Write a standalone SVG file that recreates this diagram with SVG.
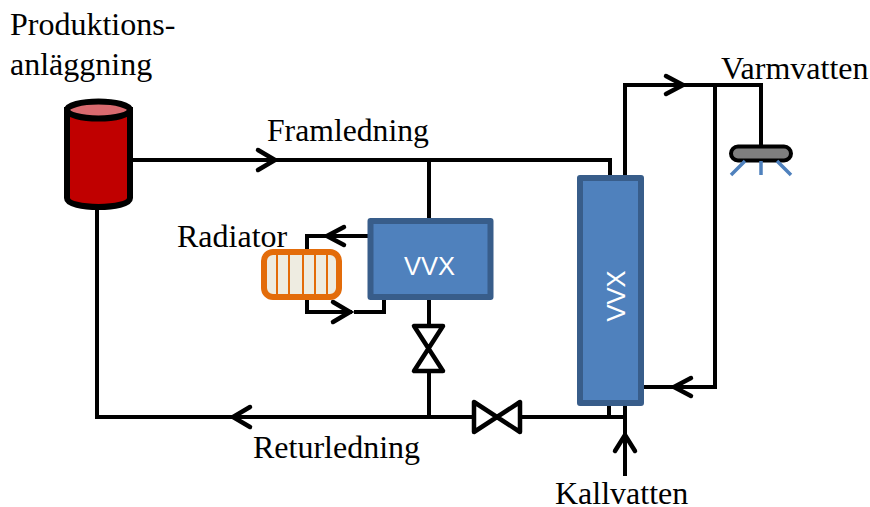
<svg xmlns="http://www.w3.org/2000/svg" width="870" height="507" viewBox="0 0 870 507">
<style>
.l{font-family:"Liberation Serif","Times New Roman",serif;font-size:32px;fill:#000}
.s{font-size:31.700px}
.w{font-family:"Liberation Sans",Arial,sans-serif;font-size:25.500px;fill:#fff;text-anchor:middle}
.p{fill:none;stroke:#000;stroke-width:4;stroke-linejoin:miter;stroke-linecap:butt}
.a{fill:none;stroke:#000;stroke-width:4.500;stroke-linecap:round;stroke-linejoin:miter}
.v{fill:#fff;stroke:#000;stroke-width:4.500;stroke-linejoin:round}
</style>
<g id="connectors">
<path class="p" d="M130 160H610V176"/>
<path class="p" d="M429 160V220"/>
<path class="p" d="M429 298V326"/>
<path class="p" d="M429 372V417"/>
<path class="p" d="M97 206V417H474"/>
<path class="p" d="M520 417H624"/>
<path class="p" d="M609 403V417"/>
<path class="p" d="M625 403V476"/>
<path class="p" d="M625 176V85H761V146"/>
<path class="p" d="M715 85V387H642"/>
<path class="p" d="M369 236H307V252"/>
<path class="p" d="M307 296V312H352"/>
<path class="p" d="M354 312H384V296"/>
<path class="a" d="M258 150L275 160L258 170"/>
<path class="a" d="M666 76L683 85L666 94"/>
<path class="a" d="M691 378L674 387L691 396"/>
<path class="a" d="M344 227L327 236L344 245"/>
<path class="a" d="M333 302L350 312L333 322"/>
<path class="a" d="M250 407L233 417L250 427"/>
<path class="a" d="M615 451L625 435L635 451"/>
</g>
<g id="producer">
<path d="M67 110V198C67 210 130 210 130 198V110Z" fill="#c00000" stroke="#000" stroke-width="6"/>
<ellipse cx="98.500" cy="110" rx="31.500" ry="8.500" fill="#d96a6f" stroke="#000" stroke-width="6"/>
<text class="l" x="10" y="35">Produktions-</text>
<text class="l" x="10" y="75">anläggning</text>
</g>
<g id="framledning"><text class="l s" x="267" y="141">Framledning</text></g>
<g id="returledning"><text class="l" x="253" y="458">Returledning</text></g>
<g id="kallvatten"><text class="l" x="555" y="504">Kallvatten</text></g>
<g id="varmvatten"><text class="l" x="721" y="79">Varmvatten</text></g>
<g id="radiator">
<text class="l" x="177" y="247">Radiator</text>
<rect x="264" y="252" width="75" height="45" rx="9" fill="#eeece1" stroke="#e36c0a" stroke-width="6"/>
<path d="M277 252V297M289 252V297M303 252V297M315 252V297M327 252V297" stroke="#e36c0a" stroke-width="2" fill="none"/>
</g>
<g id="vvx-radiator">
<rect x="370.500" y="221" width="120" height="76" fill="#4f81bd" stroke="#385d8a" stroke-width="6" stroke-linejoin="round"/>
<text class="w" x="429.500" y="275">VVX</text>
</g>
<g id="vvx-tap">
<rect x="580" y="178" width="61" height="225" fill="#4f81bd" stroke="#385d8a" stroke-width="6" stroke-linejoin="round"/>
<text class="w" transform="translate(625 296) rotate(-90)" x="0" y="0">VVX</text>
</g>
<g id="valve-vertical"><path class="v" d="M414 326H443L414 371H443Z"/></g>
<g id="valve-horizontal"><path class="v" d="M474 402V432L520 402V432Z"/></g>
<g id="shower">
<rect x="731" y="146.500" width="60" height="14" rx="7" fill="#7f7f7f" stroke="#000" stroke-width="4"/>
<path d="M745 161L731 175M761 161V175M777 161L791 175" stroke="#4f81bd" stroke-width="3.500" fill="none"/>
</g>
</svg>
